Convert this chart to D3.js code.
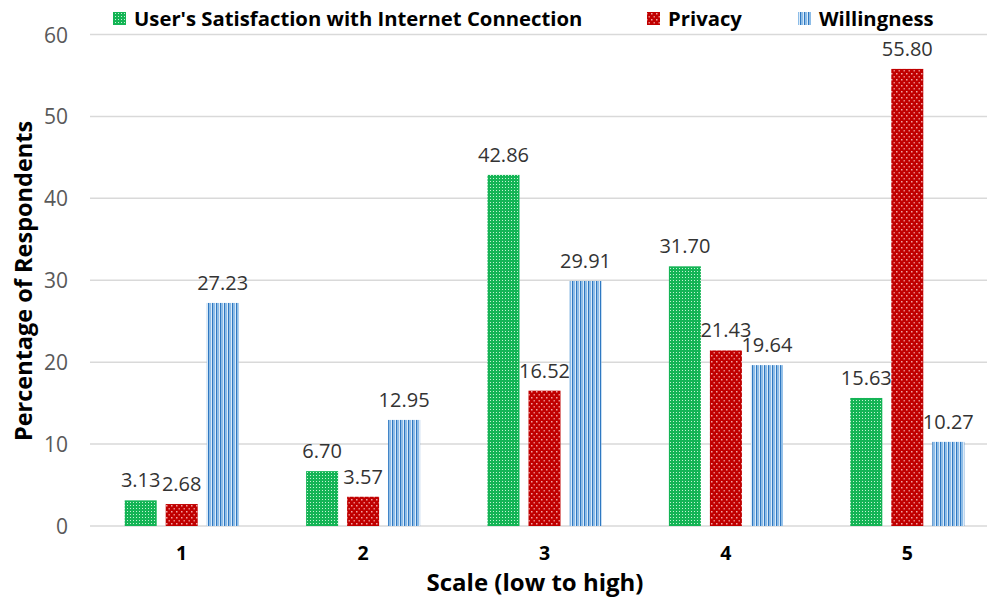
<!DOCTYPE html>
<html><head><meta charset="utf-8">
<script src="https://cdn.jsdelivr.net/npm/d3@7"></script>
<style>html,body{margin:0;padding:0;background:#fff;}svg{display:block;}</style>
</head><body>
<script>
const categories = ["1","2","3","4","5"];
const seriesNames = ["User's Satisfaction with Internet Connection","Privacy","Willingness"];
const satisfaction = [3.13, 6.70, 42.86, 31.70, 15.63];
const privacy = [2.68, 3.57, 16.52, 21.43, 55.80];
const willingness = [27.23, 12.95, 29.91, 19.64, 10.27];
const yTicks = [0,10,20,30,40,50,60];
const xTitle = "Scale (low to high)";
const yTitle = "Percentage of Respondents";

const W = 987, H = 606;
const svg = d3.select("body").append("svg").attr("width", W).attr("height", H);
const defs = svg.append("defs");

// patterns
const pg = defs.append("pattern").attr("id","pGreen").attr("patternUnits","userSpaceOnUse").attr("width",3).attr("height",3);
pg.append("rect").attr("width",3).attr("height",3).attr("fill","#14B455");
pg.append("rect").attr("x",1).attr("y",1).attr("width",1).attr("height",1).attr("fill","#C4F2D4");
const pr = defs.append("pattern").attr("id","pRed").attr("patternUnits","userSpaceOnUse").attr("width",5).attr("height",6);
pr.append("rect").attr("width",5).attr("height",6).attr("fill","#C00000");
pr.append("rect").attr("x",1).attr("y",1).attr("width",1.5).attr("height",1.5).attr("fill","#F2A6A6");
pr.append("rect").attr("x",3.5).attr("y",4).attr("width",1.5).attr("height",1.5).attr("fill","#E88080");
const pb = defs.append("pattern").attr("id","pBlue").attr("patternUnits","userSpaceOnUse").attr("width",4).attr("height",4);
pb.append("rect").attr("width",4).attr("height",4).attr("fill","#DCEBF8");
pb.append("rect").attr("x",0).attr("width",1.4).attr("height",4).attr("fill","#2E78C2");
pb.append("rect").attr("x",1.4).attr("width",1.6).attr("height",4).attr("fill","#8DBDE8");
const fills = ["url(#pGreen)","url(#pRed)","url(#pBlue)"];

const x0 = d3.scaleBand().domain(categories).range([91, 998]);
const x1 = d3.scaleBand().domain(seriesNames).range([0, 3*32 + 2*9]).paddingInner(9/41);
const y = d3.scaleLinear().domain([0,60]).range([526, 34.5]);

// gridlines
svg.append("g").selectAll("line").data(yTicks).join("line")
  .attr("x1", 90).attr("x2", W).attr("y1", d=>y(d)).attr("y2", d=>y(d))
  .attr("stroke","#D9D9D9").attr("stroke-width",1.5);

// y axis labels
const yAxis = d3.axisLeft(y).tickValues(yTicks).tickSize(0).tickPadding(0);
const ya = svg.append("g").attr("transform","translate(68,0)").call(yAxis);
ya.select(".domain").remove();
ya.selectAll("text").attr("font-family","'Open Sans'").attr("font-size",21).attr("fill","#595959").attr("dy","0.36em");

// x axis labels
const xAxis = d3.axisBottom(x0).tickSize(0).tickPadding(0);
const xa = svg.append("g").attr("transform","translate(0,546)").call(xAxis);
xa.select(".domain").remove();
xa.selectAll("text").attr("font-family","'Open Sans'").attr("font-weight","bold").attr("font-size",19.5).attr("fill","#000").attr("dy","0.71em");

const series = [satisfaction, privacy, willingness];
const groupW = x1.range()[1];
series.forEach((vals, si) => {
  const g = svg.append("g");
  const off = d => x0(d) + (x0.bandwidth() - groupW)/2 + x1(seriesNames[si]);
  g.selectAll("rect").data(categories).join("rect")
    .attr("x", d => off(d)).attr("width", x1.bandwidth())
    .attr("y", (d,i) => y(vals[i])).attr("height", (d,i) => y(0) - y(vals[i]))
    .attr("fill", fills[si]);
  g.selectAll("text").data(categories).join("text")
    .attr("x", d => off(d) + x1.bandwidth()/2)
    .attr("y", (d,i) => y(vals[i]) - 13)
    .attr("text-anchor","middle")
    .attr("font-family","'Open Sans'").attr("font-size",20).attr("fill","#333")
    .text((d,i) => vals[i].toFixed(2));
});

// axis titles
svg.append("text").attr("x",535).attr("y",591).attr("text-anchor","middle")
  .attr("font-family","'Open Sans'").attr("font-weight","bold").attr("font-size",24).attr("fill","#000").text(xTitle);
svg.append("text").attr("transform","translate(32,281) rotate(-90)").attr("text-anchor","middle")
  .attr("font-family","'Open Sans'").attr("font-weight","bold").attr("font-size",23.5).attr("fill","#000").text(yTitle);

// legend
const legX = [113, 647, 798];
seriesNames.forEach((n, i) => {
  svg.append("rect").attr("x", legX[i]).attr("y", 12).attr("width", 13).attr("height", 13).attr("fill", fills[i]);
  svg.append("text").attr("x", legX[i] + 21).attr("y", 26)
    .attr("font-family","'Open Sans'").attr("font-weight","bold").attr("font-size",20.3).attr("fill","#000").text(n);
});
</script>
</body></html>
